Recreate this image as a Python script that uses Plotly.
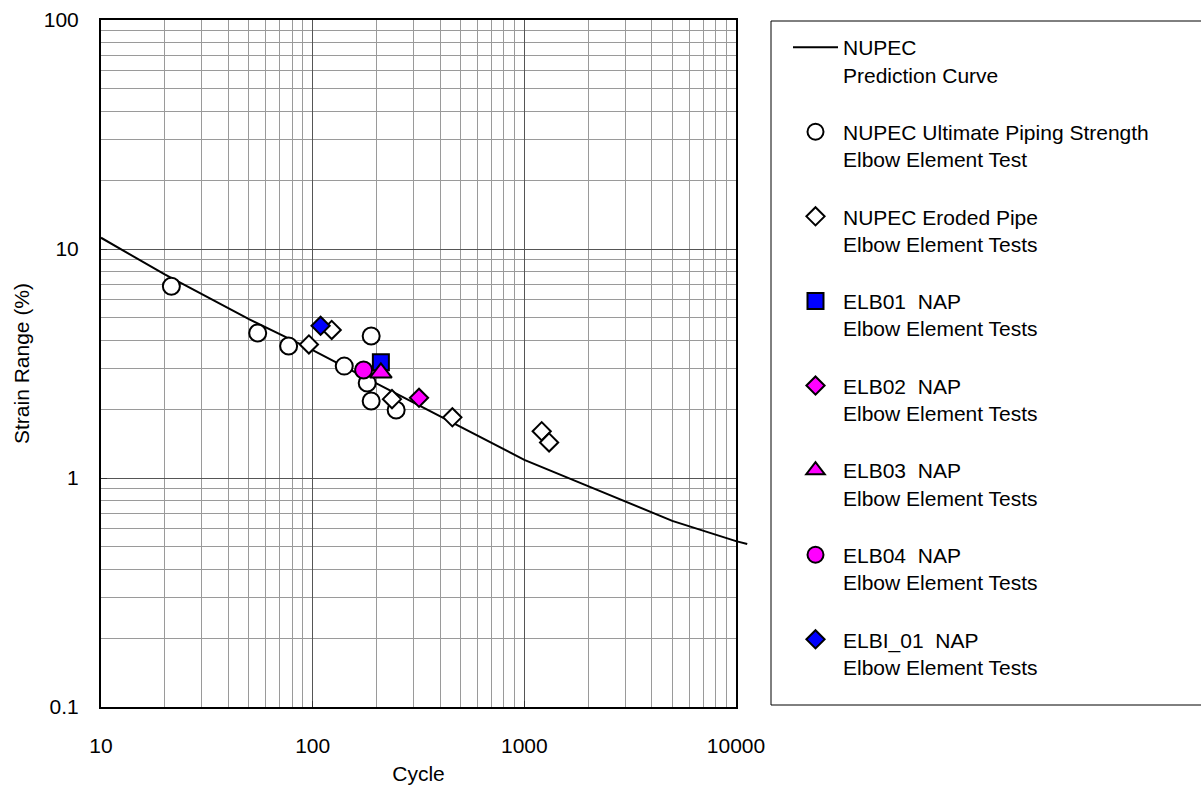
import plotly.graph_objects as go

# ---- data ----
curve_cycles = [10, 20, 50, 100, 200, 500, 1000, 2000, 5000, 10000, 11300]
curve_strain = [11.2, 7.74, 4.94, 3.62, 2.59, 1.67, 1.20, 0.922, 0.65, 0.53, 0.515]

ult_cycles = [21.5, 55, 77, 141, 189, 181, 189, 248]
ult_strain = [6.88, 4.30, 3.77, 3.08, 4.17, 2.60, 2.17, 1.98]

ero_cycles = [96, 123, 237, 457, 1208, 1309]
ero_strain = [3.83, 4.43, 2.21, 1.84, 1.60, 1.43]

elb01_cycles, elb01_strain = [210], [3.20]
elb02_cycles, elb02_strain = [318], [2.24]
elb03_cycles, elb03_strain = [210], [2.88]
elb04_cycles, elb04_strain = [174], [2.96]
elbi01_cycles, elbi01_strain = [109], [4.62]

x_ticks = [10, 100, 1000, 10000]
x_tick_text = ["10", "100", "1000", "10000"]
y_ticks = [0.1, 1, 10, 100]
y_tick_text = ["0.1", "1", "10", "100"]
x_minor = [m * d for d in (10, 100, 1000) for m in range(2, 10)]
y_minor = [m * d for d in (0.1, 1, 10) for m in range(2, 10)]

names = [
    "NUPEC<br>Prediction Curve",
    "NUPEC Ultimate Piping Strength<br>Elbow Element Test",
    "NUPEC Eroded Pipe<br>Elbow Element Tests",
    "ELB01\u00a0 NAP<br>Elbow Element Tests",
    "ELB02\u00a0 NAP<br>Elbow Element Tests",
    "ELB03\u00a0 NAP<br>Elbow Element Tests",
    "ELB04\u00a0 NAP<br>Elbow Element Tests",
    "ELBI_01\u00a0 NAP<br>Elbow Element Tests",
]

# ---- layout geometry (pixels) ----
W, H = 1201, 791
L_PX, T_PX, B_PX = 101, 20, 707
R_AXIS = 736          # right edge of the log axis (10000)
R_EXT = 748           # curve runs slightly past the frame
plot_w = R_EXT - L_PX
plot_h = B_PX - T_PX
dom_main = (R_AXIS - L_PX) / plot_w

FONT = "Liberation Sans, Arial, sans-serif"
fig = go.Figure()

# empty trace so that the framed x/y subplot (grid, ticks, titles) is created
fig.add_trace(go.Scatter(x=[], y=[], mode="markers", showlegend=False,
                         hoverinfo="skip", xaxis="x", yaxis="y"))

common = dict(xaxis="x2", yaxis="y2")
fig.add_trace(go.Scatter(x=curve_cycles, y=curve_strain, mode="lines",
                         line=dict(color="black", width=2), name=names[0],
                         legendgroup="g0", **common))


def mk(xs, ys, sym, fill, size, name, grp):
    fig.add_trace(go.Scatter(x=xs, y=ys, mode="markers", name=name, legendgroup=grp,
                             marker=dict(symbol=sym, size=size, color=fill,
                                         line=dict(color="black", width=2)), **common))


mk(ult_cycles, ult_strain, "circle", "white", 17, names[1], "g1")
mk(ero_cycles, ero_strain, "diamond", "white", 14, names[2], "g2")
mk(elb01_cycles, elb01_strain, "square", "#0000FF", 16, names[3], "g3")
mk(elb02_cycles, elb02_strain, "diamond", "#FF00FF", 14, names[4], "g4")
mk(elb03_cycles, elb03_strain, "triangle-up", "#FF00FF", 19, names[5], "g5")
mk(elb04_cycles, elb04_strain, "circle", "#FF00FF", 17, names[6], "g6")
mk(elbi01_cycles, elbi01_strain, "diamond", "#0000FF", 14, names[7], "g7")

axis_font = dict(family=FONT, size=21, color="black")
fig.update_layout(
    width=W, height=H,
    margin=dict(l=L_PX, r=W - R_EXT, t=T_PX, b=H - B_PX, autoexpand=False),
    paper_bgcolor="white", plot_bgcolor="rgba(0,0,0,0)",
    font=dict(family=FONT, size=21, color="black"),
    showlegend=True,
    xaxis=dict(type="log", range=[1, 4], domain=[0, dom_main], anchor="y",
               tickvals=x_ticks, ticktext=x_tick_text, tickfont=axis_font,
               ticks="inside", ticklen=6, tickcolor="#333", ticklabelstandoff=19,
               showgrid=True, gridcolor="#555555", gridwidth=1,
               minor=dict(tickvals=x_minor, showgrid=True, gridcolor="#9a9a9a",
                          gridwidth=1, ticks=""),
               showline=True, linecolor="black", linewidth=2, mirror=True,
               title=dict(text="Cycle", font=axis_font, standoff=10),
               automargin=False),
    yaxis=dict(type="log", range=[-1, 2], domain=[0, 1], anchor="x",
               tickvals=y_ticks, ticktext=y_tick_text, tickfont=axis_font,
               ticks="inside", ticklen=6, tickcolor="#333", ticklabelstandoff=16,
               showgrid=True, gridcolor="#555555", gridwidth=1,
               minor=dict(tickvals=y_minor, showgrid=True, gridcolor="#9a9a9a",
                          gridwidth=1, ticks=""),
               showline=True, linecolor="black", linewidth=2, mirror=True,
               title=dict(text="Strain Range (%)", font=axis_font, standoff=8),
               automargin=False),
    xaxis2=dict(type="log", range=[1, 1 + 3 / dom_main], domain=[0, 1], anchor="y2",
                visible=False, showgrid=False),
    yaxis2=dict(type="log", range=[-1, 2], domain=[0, 1], anchor="x2",
                visible=False, showgrid=False),
    legend=dict(x=(788 - L_PX) / plot_w, y=(B_PX - 27) / plot_h,
                xanchor="left", yanchor="top", valign="top",
                font=dict(family=FONT, size=21, color="black"),
                itemwidth=45, tracegroupgap=27, bgcolor="rgba(0,0,0,0)",
                borderwidth=0),
    shapes=[dict(type="rect", xref="paper", yref="paper",
                 x0=(771 - L_PX) / plot_w, x1=(1210 - L_PX) / plot_w,
                 y0=(B_PX - 705) / plot_h, y1=(B_PX - 21) / plot_h,
                 line=dict(color="black", width=1), fillcolor="rgba(0,0,0,0)",
                 layer="below")],
)

fig.write_html("out.html")
